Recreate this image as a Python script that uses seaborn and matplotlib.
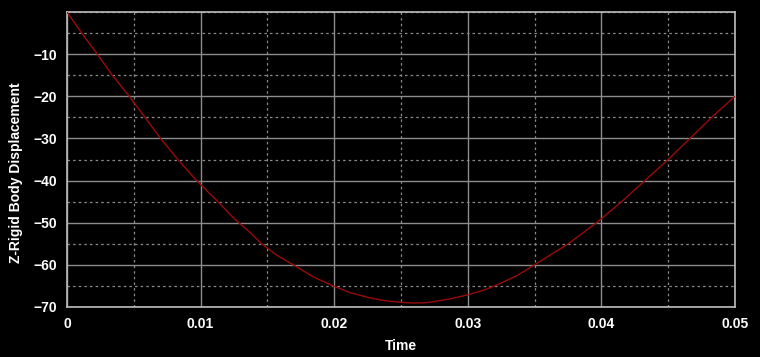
import matplotlib
matplotlib.use("Agg")
import matplotlib.pyplot as plt
import seaborn as sns
import pandas as pd
from matplotlib.ticker import MultipleLocator, FixedLocator

# values
time_s = [0.0, 0.0011, 0.00227, 0.00339, 0.00466, 0.00584, 0.0070, 0.0083,
          0.0097, 0.0113, 0.0125, 0.0137, 0.01457, 0.0157, 0.01694, 0.0184,
          0.01993, 0.0212, 0.0225, 0.0238, 0.025, 0.0259, 0.0268, 0.0275,
          0.0288, 0.03, 0.0312, 0.0323, 0.0337, 0.035, 0.03752, 0.03964,
          0.04151, 0.04326, 0.045, 0.04663, 0.04825, 0.05]
z_disp = [0.0, -5, -10, -15, -20, -25, -30, -35,
          -40, -45, -49, -52.3, -55, -57.7, -60, -62.8,
          -65, -66.6, -67.7, -68.5, -68.9, -69.05, -69.0, -68.7,
          -68.0, -67.1, -66.0, -64.6, -62.5, -60, -55, -50,
          -45, -40, -35, -30, -25, -20]
y_ticks = [-10, -20, -30, -40, -50, -60, -70]
x_ticks = [0, 0.01, 0.02, 0.03, 0.04, 0.05]
x_tick_labels = ["0", "0.01", "0.02", "0.03", "0.04", "0.05"]

sns.set_style("dark")
plt.rcParams['font.family'] = ['Liberation Sans', 'DejaVu Sans']
plt.rcParams['font.weight'] = 'bold'

df = pd.DataFrame({'Time': time_s, 'Z': z_disp})

fig = plt.figure(figsize=(7.6, 3.57), dpi=100, facecolor='black')
ax = fig.add_axes([67 / 760, 1 - 307 / 357, 668 / 760, 295 / 357])
ax.set_facecolor('black')

sns.lineplot(data=df, x='Time', y='Z', color='#9b0a0a', linewidth=1.0, ax=ax,
             sort=False, zorder=5)

ax.set_xlim(0, 0.05)
ax.set_ylim(-70, 0)
ax.xaxis.set_major_locator(FixedLocator(x_ticks))
ax.set_xticklabels(x_tick_labels)
ax.xaxis.set_minor_locator(MultipleLocator(0.005))
ax.yaxis.set_major_locator(FixedLocator(y_ticks))
ax.yaxis.set_minor_locator(MultipleLocator(5))

# grid: solid major, dotted minor
ax.grid(which='major', color='#8c8c8c', linestyle='-', linewidth=1.0)
ax.grid(which='minor', color='#8c8c8c', linestyle=(0, (2, 2.5)), linewidth=0.9)

for side, sp in ax.spines.items():
    sp.set_visible(True)
    sp.set_color('#bdbdbd')
    sp.set_linewidth(1.2)

ax.tick_params(axis='both', which='major', colors='#bdbdbd', labelcolor='white',
               labelsize=10, direction='inout', length=8, width=1)
ax.tick_params(axis='both', which='minor', colors='#bdbdbd', direction='in',
               length=5, width=1)
ax.tick_params(axis='x', which='major', pad=3)
for lab in ax.get_xticklabels() + ax.get_yticklabels():
    lab.set_fontweight('bold')

ax.set_xlabel('Time', color='white', fontsize=10, fontweight='bold', labelpad=6)
ax.set_ylabel('Z-Rigid Body Displacement', color='white', fontsize=10,
              fontweight='bold')
ax.yaxis.set_label_coords(-0.066, 0.454)

plt.savefig('out.png', dpi=100, facecolor='black')
